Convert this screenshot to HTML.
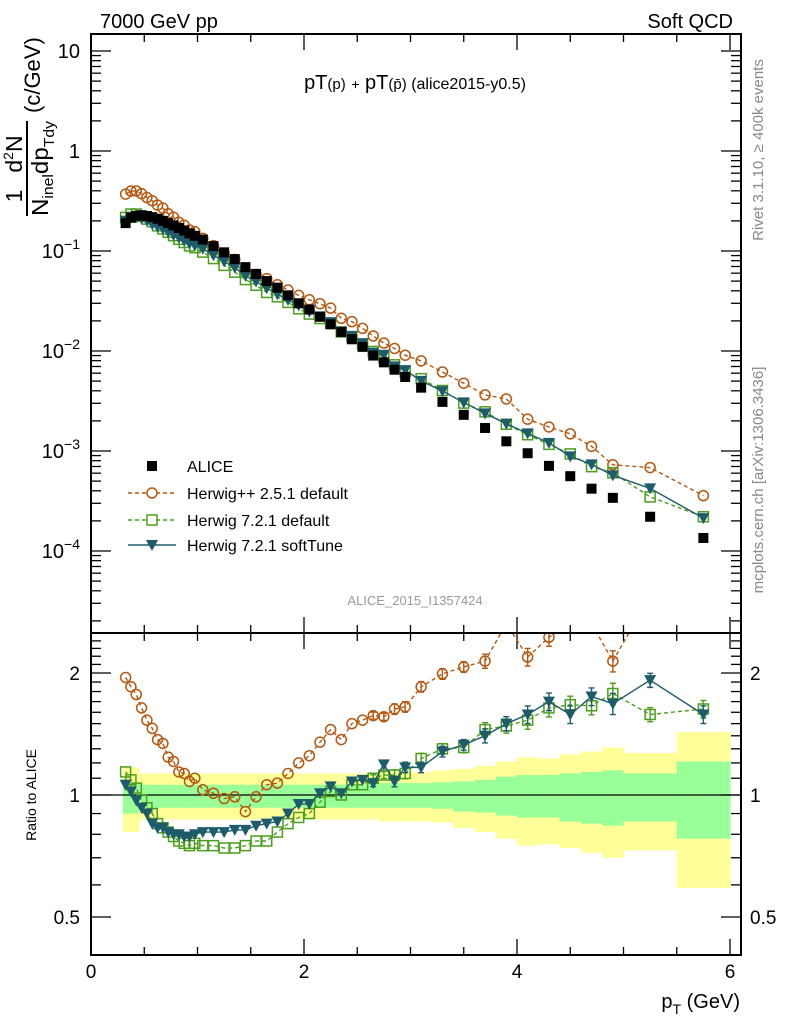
<!DOCTYPE html>
<html><head><meta charset="utf-8"><style>
html,body{margin:0;padding:0;background:#fff;}
svg{display:block;font-family:"Liberation Sans",sans-serif;}
</style></head><body>
<svg id="chart" width="786" height="1024" viewBox="0 0 786 1024" xmlns="http://www.w3.org/2000/svg">
<defs>
<clipPath id="clipMain"><rect x="91" y="34" width="650" height="599"/></clipPath>
<clipPath id="clipRatio"><rect x="91" y="633" width="650" height="322"/></clipPath>
</defs>
<g id="bands" clip-path="url(#clipRatio)"></g>
<line x1="91" y1="795" x2="741" y2="795" stroke="#000" stroke-width="1.3"/>
<g id="axes"></g>
<g id="mainSeries" clip-path="url(#clipMain)"></g>
<g id="ratioSeries" clip-path="url(#clipRatio)"></g>
<rect x="91" y="34" width="650" height="599" fill="none" stroke="#000" stroke-width="2"/>
<rect x="91" y="633" width="650" height="322" fill="none" stroke="#000" stroke-width="2"/>

<text x="100" y="28" font-size="20">7000 GeV pp</text>
<text x="733" y="28" font-size="20" text-anchor="end">Soft QCD</text>
<text x="415" y="89" font-size="20" text-anchor="middle">pT<tspan font-size="15">(p)</tspan> <tspan font-size="14">+</tspan> pT<tspan font-size="15">(p̄)</tspan><tspan font-size="16"> (alice2015-y0.5)</tspan></text>
<text x="415" y="605" font-size="13" fill="#999" text-anchor="middle">ALICE_2015_I1357424</text>
<text transform="translate(763,150) rotate(-90)" font-size="15" fill="#888" text-anchor="middle">Rivet 3.1.10, ≥ 400k events</text>
<text transform="translate(763,480) rotate(-90)" font-size="15" fill="#888" text-anchor="middle">mcplots.cern.ch [arXiv:1306.3436]</text>

<g transform="translate(0,216) rotate(-90)">
<text x="20" y="22" font-size="23" text-anchor="middle">1</text>
<text x="62" y="22" font-size="23" text-anchor="middle">d<tspan font-size="14" dy="-9">2</tspan><tspan dy="9">N</tspan></text>
<line x1="0" y1="27" x2="95" y2="27" stroke="#000" stroke-width="2"/>
<text x="0" y="48" font-size="23" textLength="95" lengthAdjust="spacingAndGlyphs">N<tspan font-size="15" dy="5">inel</tspan><tspan dy="-5">dp</tspan><tspan font-size="15" dy="6">Tdy</tspan></text>
<text x="103" y="40" font-size="22">(c/GeV)</text>
</g>
<text transform="translate(36,795) rotate(-90)" font-size="14" text-anchor="middle">Ratio to ALICE</text>
<text x="740" y="1008" font-size="20" text-anchor="end">p<tspan font-size="14" dy="6">T</tspan><tspan dy="-6"> (GeV)</tspan></text>

<g>
<g>
<rect x="147" y="461" width="10" height="10" fill="#000"/>
<text x="187" y="472" font-size="16">ALICE</text></g>
<g>
<line x1="128" y1="493" x2="176" y2="493" stroke="#b5570f" stroke-width="1.5" stroke-dasharray="4,3"/>
<circle cx="152" cy="493" r="5" fill="#fff" stroke="#b5570f" stroke-width="1.5"/>
<text x="187" y="499" font-size="16">Herwig++ 2.5.1 default</text></g>
<g>
<line x1="128" y1="520" x2="176" y2="520" stroke="#4a9e1d" stroke-width="1.5" stroke-dasharray="4,3"/>
<rect x="147" y="515" width="10" height="10" fill="#fff" stroke="#4a9e1d" stroke-width="1.5"/>
<text x="187" y="526" font-size="16">Herwig 7.2.1 default</text></g>
<g>
<line x1="128" y1="545" x2="176" y2="545" stroke="#1e5b6b" stroke-width="1.5"/>
<path d="M146,540 L158,540 L152,551 Z" fill="#1e5b6b"/>
<text x="187" y="551" font-size="16">Herwig 7.2.1 softTune</text></g>
</g>
</svg>
<script>
const ptBins = [0.325,0.375,0.425,0.475,0.525,0.575,0.625,0.675,0.725,0.775,0.825,0.875,0.925,0.975,
1.05,1.15,1.25,1.35,1.45,1.55,1.65,1.75,1.85,1.95,
2.05,2.15,2.25,2.35,2.45,2.55,2.65,2.75,2.85,2.95,
3.1,3.3,3.5,3.7,3.9,4.1,4.3,4.5,4.7,4.9,5.25,5.75];
const binEdges = [0.3,0.35,0.4,0.45,0.5,0.55,0.6,0.65,0.7,0.75,0.8,0.85,0.9,0.95,1.0,
1.1,1.2,1.3,1.4,1.5,1.6,1.7,1.8,1.9,2.0,2.1,2.2,2.3,2.4,2.5,2.6,2.7,2.8,2.9,3.0,
3.2,3.4,3.6,3.8,4.0,4.2,4.4,4.6,4.8,5.0,5.5,6.0];
const aliceValues = [0.19,0.215,0.225,0.228,0.224,0.218,0.210,0.200,0.190,0.180,0.170,0.160,0.150,0.142,
0.130,0.112,0.097,0.083,0.069,0.059,0.050,0.043,0.036,0.030,
0.026,0.022,0.0185,0.0155,0.0131,0.0110,0.0090,0.0077,0.0065,0.0055,
0.0043,0.0031,0.0023,0.0017,0.00125,0.00095,0.00071,0.00056,0.00042,0.00034,0.00022,0.000135];
const herwigppRatio = [1.95,1.85,1.77,1.64,1.53,1.46,1.37,1.34,1.24,1.21,1.14,1.13,1.08,1.10,
1.03,1.01,0.98,0.99,0.91,0.99,1.06,1.07,1.13,1.20,
1.25,1.35,1.45,1.37,1.50,1.53,1.57,1.56,1.63,1.65,
1.85,1.99,2.07,2.14,2.65,2.19,2.45,2.65,2.65,2.14,3.1,2.65];
const herwig721Ratio = [1.14,1.09,1.04,0.97,0.93,0.90,0.85,0.83,0.81,0.79,0.77,0.76,0.75,0.76,
0.75,0.75,0.74,0.74,0.75,0.77,0.77,0.81,0.85,0.88,
0.90,0.96,1.02,1.00,1.06,1.06,1.10,1.12,1.12,1.13,
1.23,1.30,1.31,1.45,1.48,1.53,1.64,1.67,1.66,1.78,1.58,1.63];
const softTuneRatio = [1.06,1.02,0.97,0.93,0.90,0.85,0.83,0.83,0.81,0.80,0.80,0.79,0.79,0.80,
0.81,0.81,0.81,0.82,0.82,0.84,0.85,0.86,0.90,0.95,
0.95,1.01,1.05,1.01,1.08,1.09,1.07,1.19,1.08,1.17,
1.17,1.28,1.33,1.40,1.50,1.58,1.70,1.58,1.75,1.68,1.92,1.58];
const yellowUp = [1.17,1.17,1.17,1.13,1.13,1.13,1.13,1.13,1.13,1.13,1.13,1.13,1.13,1.13,
1.13,1.13,1.13,1.13,1.13,1.13,1.13,1.13,1.13,1.13,
1.13,1.13,1.13,1.13,1.13,1.13,1.13,1.14,1.14,1.14,
1.14,1.15,1.16,1.18,1.21,1.24,1.23,1.26,1.28,1.31,1.27,1.43];
const yellowDn = [0.81,0.81,0.81,0.87,0.87,0.87,0.87,0.87,0.87,0.87,0.87,0.87,0.87,0.87,
0.87,0.87,0.87,0.87,0.87,0.87,0.87,0.87,0.87,0.87,
0.87,0.87,0.87,0.87,0.87,0.87,0.87,0.86,0.86,0.86,
0.86,0.855,0.83,0.81,0.78,0.75,0.755,0.74,0.72,0.70,0.73,0.59];
const greenUp = [1.07,1.07,1.07,1.06,1.06,1.06,1.06,1.06,1.06,1.06,1.06,1.06,1.06,1.06,
1.06,1.06,1.06,1.06,1.06,1.06,1.06,1.06,1.06,1.06,
1.06,1.06,1.06,1.06,1.06,1.06,1.07,1.07,1.07,1.07,
1.07,1.075,1.08,1.09,1.11,1.12,1.12,1.13,1.14,1.15,1.13,1.21];
const greenDn = [0.90,0.90,0.90,0.93,0.93,0.93,0.93,0.93,0.93,0.93,0.93,0.93,0.93,0.93,
0.93,0.93,0.93,0.93,0.93,0.93,0.93,0.93,0.93,0.93,
0.93,0.93,0.93,0.93,0.93,0.93,0.93,0.93,0.93,0.93,
0.93,0.925,0.91,0.905,0.89,0.88,0.88,0.86,0.85,0.84,0.86,0.78];
const ratioErr = [0,0,0,0,0,0,0,0,0,0,0,0,0,0,0,0,0,0,0,0,0,0,0,0,
0,0,0,0,0,0,0.02,0.02,0.03,0.03,0.03,0.03,0.03,0.04,0.04,0.05,0.05,0.05,0.05,0.06,0.04,0.05];
const xTickLabels = ["0","2","4","6"];
const mainTickLabels = ["10","1","10−1","10−2","10−3","10−4"];
const ratioTickLabels = ["0.5","1","2"];

const NS = "http://www.w3.org/2000/svg";
const X = v => 91 + v * 106.5;
const Ym = v => 151 - 100 * Math.log10(v);
const Yr = r => 795 - 122 * Math.log2(r);
function mk(tag, attrs, parent) {
  const e = document.createElementNS(NS, tag);
  for (const k in attrs) e.setAttribute(k, attrs[k]);
  parent.appendChild(e);
  return e;
}
const axes = document.getElementById('axes');
const bands = document.getElementById('bands');
const mainG = document.getElementById('mainSeries');
const ratioG = document.getElementById('ratioSeries');

for (let i = 0; i < ptBins.length; i++) {
  const x0 = X(binEdges[i]), x1 = X(binEdges[i + 1]) + 0.5;
  const y = mk('rect', {x: x0, y: Yr(yellowUp[i]), width: x1 - x0, height: Yr(yellowDn[i]) - Yr(yellowUp[i]), fill: '#ffff99'}, bands);
  
  
  const g = mk('rect', {x: x0, y: Yr(greenUp[i]), width: x1 - x0, height: Yr(greenDn[i]) - Yr(greenUp[i]), fill: '#99ff99'}, bands);
  
  
}

for (let v = 0; v <= 6.01; v += 0.5) {
  const major = Math.abs(v / 2 - Math.round(v / 2)) < 1e-6;
  const len = major ? 16 : 8;
  [[34, 1], [633, 1], [633, -1], [955, -1]].forEach(([y0, d]) => {
    const t = mk('line', {x1: X(v), x2: X(v), y1: y0, y2: y0 + d * len, stroke: '#000', 'stroke-width': 1.3}, axes);
    
    
  });
}
xTickLabels.forEach((lab, i) => {
  const t = mk('text', {x: X(i * 2), y: 978, 'font-size': 19, 'text-anchor': 'middle'}, axes);
  t.textContent = lab;
  
  
});
for (let e = -5; e <= 1; e++) {
  for (let m = 1; m <= 9; m++) {
    const v = m * Math.pow(10, e);
    const y = Ym(v);
    if (y < 35 || y > 632) continue;
    const len = m === 1 ? 20 : 10;
    [[91, 1], [741, -1]].forEach(([x0, d]) => {
      const t = mk('line', {x1: x0, x2: x0 + d * len, y1: y, y2: y, stroke: '#000', 'stroke-width': 1.3}, axes);
      
      
    });
  }
}
mainTickLabels.forEach((lab, i) => {
  const y = Ym(Math.pow(10, 1 - i)) + 7;
  const t = mk('text', {x: 80, y: y, 'font-size': 20, 'text-anchor': 'end'}, axes);
  if (i < 2) t.textContent = lab;
  else {
    t.textContent = '10';
    const s = mk('tspan', {'font-size': 14, dy: -9}, t);
    s.textContent = lab.slice(2);
  }
  
  
});
for (let v = 0.4; v <= 2.55; v += 0.1) {
  const y = Yr(v);
  if (y < 634 || y > 954) continue;
  const major = [0.5, 1, 2].some(m => Math.abs(m - v) < 1e-6);
  const len = major ? 20 : 10;
  [[91, 1], [741, -1]].forEach(([x0, d]) => {
    const t = mk('line', {x1: x0, x2: x0 + d * len, y1: y, y2: y, stroke: '#000', 'stroke-width': 1.3}, axes);
    
    
  });
}
ratioTickLabels.forEach(lab => {
  const y = Yr(parseFloat(lab)) + 7;
  const l = mk('text', {x: 80, y: y, 'font-size': 19, 'text-anchor': 'end'}, axes);
  l.textContent = lab;
  
  
  const r = mk('text', {x: 750, y: y, 'font-size': 19}, axes);
  r.textContent = lab;
  
  
});

function marker(kind, cx, cy, color, parent, name) {
  let e;
  if (kind === 'square') e = mk('rect', {x: cx - 5, y: cy - 5, width: 10, height: 10, fill: '#000'}, parent);
  else if (kind === 'circle') e = mk('circle', {cx: cx, cy: cy, r: 5, fill: 'none', stroke: color, 'stroke-width': 1.5}, parent);
  else if (kind === 'osquare') e = mk('rect', {x: cx - 5, y: cy - 5, width: 10, height: 10, fill: 'none', stroke: color, 'stroke-width': 1.5}, parent);
  else e = mk('path', {d: `M${cx - 6},${cy - 5} L${cx + 6},${cy - 5} L${cx},${cy + 6} Z`, fill: color}, parent);
  
  
}

const series = [
  {ratio: herwigppRatio, color: '#b5570f', dash: '4,3', kind: 'circle', name: 'herwigpp-251'},
  {ratio: herwig721Ratio, color: '#4a9e1d', dash: '4,3', kind: 'osquare', name: 'herwig-721-default'},
  {ratio: softTuneRatio, color: '#1e5b6b', dash: null, kind: 'tri', name: 'herwig-721-softtune'}
];
series.forEach(s => {
  const vals = s.ratio.map((r, i) => r * aliceValues[i]);
  const ptsM = ptBins.map((p, i) => X(p) + ',' + Ym(vals[i])).join(' ');
  const lm = mk('polyline', {points: ptsM, fill: 'none', stroke: s.color, 'stroke-width': 1.4}, mainG);
  if (s.dash) lm.setAttribute('stroke-dasharray', s.dash);
  
  
  const ptsR = ptBins.map((p, i) => X(p) + ',' + Yr(s.ratio[i])).join(' ');
  const lr = mk('polyline', {points: ptsR, fill: 'none', stroke: s.color, 'stroke-width': 1.4}, ratioG);
  if (s.dash) lr.setAttribute('stroke-dasharray', s.dash);
  
  
  ptBins.forEach((p, i) => {
    marker(s.kind, X(p), Ym(vals[i]), s.color, mainG, s.name + '-point');
    if (ratioErr[i] > 0) {
      const e = ratioErr[i] * s.ratio[i];
      const y1 = Yr(s.ratio[i] + e), y2 = Yr(s.ratio[i] - e);
      const eb = mk('path', {d: `M${X(p)},${y1} V${y2} M${X(p) - 3},${y1} H${X(p) + 3} M${X(p) - 3},${y2} H${X(p) + 3}`, stroke: s.color, 'stroke-width': 1.4, fill: 'none'}, ratioG);
      
      
    }
    marker(s.kind, X(p), Yr(s.ratio[i]), s.color, ratioG, s.name + '-ratio-point');
  });
});
ptBins.forEach((p, i) => {
  marker('square', X(p), Ym(aliceValues[i]), '#000', mainG, 'alice-point');
});
</script>
</body></html>
